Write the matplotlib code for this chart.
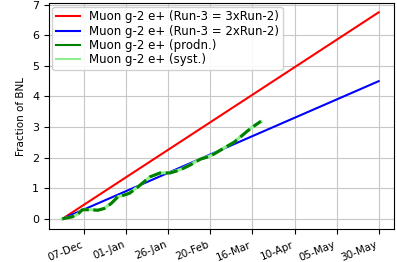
import matplotlib
matplotlib.use("Agg")
import matplotlib.pyplot as plt
import matplotlib.dates as mdates
from matplotlib.lines import Line2D
import pandas as pd

# reference lines: start / end dates and values
ref_dates = ["2019-11-24", "2020-05-30"]
run3_3x = [0.0, 6.75]
run3_2x = [0.0, 4.5]

# production curve
prod_dates = ["2019-11-24", "2019-11-30", "2019-12-03", "2019-12-06", "2019-12-11",
              "2019-12-15", "2019-12-19", "2019-12-23", "2019-12-27", "2020-01-01",
              "2020-01-03", "2020-01-07", "2020-01-15", "2020-01-21", "2020-01-27",
              "2020-02-02", "2020-02-08", "2020-02-14", "2020-02-20", "2020-02-24",
              "2020-03-05", "2020-03-15", "2020-03-21"]
prod_vals = [0.0, 0.07, 0.15, 0.30, 0.30, 0.28, 0.34, 0.50, 0.72, 0.80,
             0.84, 1.00, 1.37, 1.50, 1.50, 1.60, 1.76, 1.95, 2.05, 2.18,
             2.50, 2.96, 3.19]
syst_vals = [0.0, 0.07, 0.15, 0.30, 0.30, 0.29, 0.35, 0.51, 0.72, 0.80,
             0.85, 1.01, 1.37, 1.50, 1.51, 1.61, 1.77, 1.96, 2.06, 2.19,
             2.51, 2.97, 3.18]

tick_dates = ["2019-12-07", "2020-01-01", "2020-01-26", "2020-02-20",
              "2020-03-16", "2020-04-10", "2020-05-05", "2020-05-30"]
labels = ["Muon g-2 e+ (Run-3 = 3xRun-2)", "Muon g-2 e+ (Run-3 = 2xRun-2)",
          "Muon g-2 e+ (prodn.)", "Muon g-2 e+ (syst.)"]

fig = plt.figure(figsize=(3.97, 2.62), dpi=100)
ax = fig.add_axes([0.123, 0.126, 0.869, 0.862])

rd = pd.to_datetime(ref_dates)
pdts = pd.to_datetime(prod_dates)
ax.plot(rd, run3_3x, color="red", lw=1.5, zorder=3)
ax.plot(rd, run3_2x, color="blue", lw=1.5, zorder=3)
ax.plot(pdts, syst_vals, color="lightgreen", lw=2.2, zorder=4)
ax.plot(pdts, prod_vals, color="green", lw=2.2, ls=(0, (4, 1.5)), zorder=5)

handles = [Line2D([], [], color="red", lw=1.5),
           Line2D([], [], color="blue", lw=1.5),
           Line2D([], [], color="green", lw=1.5),
           Line2D([], [], color="lightgreen", lw=1.5)]
ax.legend(handles, labels, loc="upper left", fontsize=8.5, borderaxespad=0.3,
          handlelength=2.0, labelspacing=0.12, borderpad=0.3, framealpha=0.9)

ax.set_xlim(pd.Timestamp("2019-11-16"), pd.Timestamp("2020-06-08"))
ax.set_ylim(-0.33, 7.05)
ax.set_xticks(pd.to_datetime(tick_dates))
ax.xaxis.set_major_formatter(mdates.DateFormatter("%d-%b"))
plt.setp(ax.get_xticklabels(), rotation=22, ha="right", fontsize=7.5)
ax.tick_params(axis="x", pad=4)
ax.tick_params(axis="y", labelsize=8)
ax.set_yticks(range(0, 8))
ax.set_ylabel("Fraction of BNL", fontsize=7.5)
ax.grid(True, color="#c8c8c8", lw=0.8)
ax.set_axisbelow(True)

fig.savefig("out.png", dpi=100)
